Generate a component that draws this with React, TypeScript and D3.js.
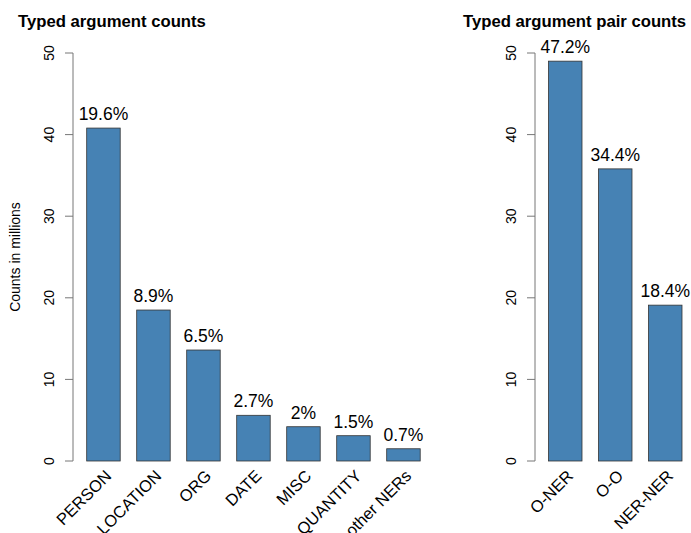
import { useEffect, useRef } from 'react'
import * as d3 from 'd3'

const argTypes = ['PERSON', 'LOCATION', 'ORG', 'DATE', 'MISC', 'QUANTITY', 'other NERs']
const argCounts = [40.8, 18.5, 13.6, 5.6, 4.2, 3.1, 1.5]
const argPct = ['19.6%', '8.9%', '6.5%', '2.7%', '2%', '1.5%', '0.7%']

const pairTypes = ['O-NER', 'O-O', 'NER-NER']
const pairCounts = [49.0, 35.8, 19.1]
const pairPct = ['47.2%', '34.4%', '18.4%']

const yTicks = [0, 10, 20, 30, 40, 50]

const FONT = '"Liberation Sans", Arial, Helvetica, sans-serif'

export default function App() {
  const svgRef = useRef<SVGSVGElement>(null)

  useEffect(() => {
    document.body.style.margin = '0'
    if (!svgRef.current) return
    render()
  }, [])

  const drawPanel = (
    svg: d3.Selection<SVGSVGElement, unknown, null, undefined>,
    opts: {
      title: string
      titleX: number
      axisX: number
      firstBar: number
      cats: string[]
      vals: number[]
      pct: string[]
      ylabel?: string
    }
  ) => {
    const y = d3.scaleLinear().domain([0, 50]).range([461, 53])
    const step = 50
    const bw = 33.5
    const x = (i: number) => opts.firstBar + i * step

    const g = svg.append('g').attr('font-family', FONT)

    // title
    g.append('text')
      .text(opts.title)
      .attr('x', opts.titleX)
      .attr('y', 27)
      .attr('font-size', '16.7px')
      .attr('font-weight', 700)
      .attr('fill', '#000')

    // y axis
    g.append('line')
      .attr('x1', opts.axisX).attr('x2', opts.axisX)
      .attr('y1', y(0)).attr('y2', y(50))
      .attr('stroke', '#777').attr('stroke-width', 1)

    yTicks.forEach(t => {
      g.append('line')
        .attr('x1', opts.axisX - 8).attr('x2', opts.axisX)
        .attr('y1', y(t)).attr('y2', y(t))
        .attr('stroke', '#777').attr('stroke-width', 1)
      g.append('text')
        .text(t)
        .attr('transform', `translate(${opts.axisX - 19},${y(t)}) rotate(-90)`)
        .attr('text-anchor', 'middle')
        .attr('font-size', '14px')
        .attr('fill', '#000')
    })

    if (opts.ylabel) {
      g.append('text')
        .text(opts.ylabel)
        .attr('transform', `translate(20,${y(25)}) rotate(-90)`)
        .attr('text-anchor', 'middle')
        .attr('font-size', '14px')
        .attr('fill', '#000')
    }

    // bars
    opts.vals.forEach((v, i) => {
      g.append('rect')
        .attr('x', x(i))
        .attr('y', y(v))
        .attr('width', bw)
        .attr('height', y(0) - y(v))
        .attr('fill', '#4682B4')
        .attr('stroke', '#333')
        .attr('stroke-width', 0.8)

      g.append('text')
        .text(opts.pct[i])
        .attr('x', x(i) + bw / 2)
        .attr('y', y(v) - 8)
        .attr('text-anchor', 'middle')
        .attr('font-size', '17.5px')
        .attr('fill', '#000')

      g.append('text')
        .text(opts.cats[i])
        .attr('transform', `translate(${x(i) + bw / 2 + 9},${477}) rotate(-45)`)
        .attr('text-anchor', 'end')
        .attr('font-size', '16.5px')
        .attr('fill', '#000')
    })
  }

  const render = () => {
    if (!svgRef.current) return
    d3.select(svgRef.current).selectAll('*').remove()
    const svg = d3.select(svgRef.current)
      .attr('width', 691)
      .attr('height', 533)

    svg.append('rect').attr('width', 691).attr('height', 533).attr('fill', '#fff')

    drawPanel(svg, {
      title: 'Typed argument counts',
      titleX: 18,
      axisX: 73,
      firstBar: 86.7,
      cats: argTypes,
      vals: argCounts,
      pct: argPct,
      ylabel: 'Counts in millions',
    })

    drawPanel(svg, {
      title: 'Typed argument pair counts',
      titleX: 463,
      axisX: 535,
      firstBar: 548.5,
      cats: pairTypes,
      vals: pairCounts,
      pct: pairPct,
    })
  }

  return <svg ref={svgRef} style={{ display: 'block' }}></svg>
}
